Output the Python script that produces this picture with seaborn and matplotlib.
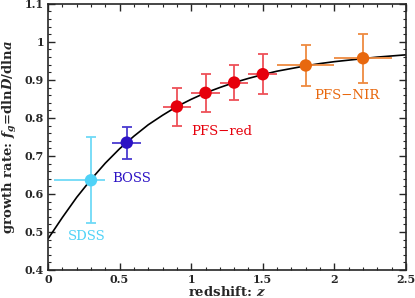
import numpy as np
import pandas as pd
import seaborn as sns
import matplotlib.pyplot as plt
from matplotlib.ticker import MultipleLocator

survey = ["SDSS", "BOSS", "PFS-red", "PFS-red", "PFS-red", "PFS-red", "PFS-NIR", "PFS-NIR"]
z = [0.30, 0.55, 0.90, 1.10, 1.30, 1.50, 1.80, 2.20]
f_g = [0.636, 0.735, 0.830, 0.866, 0.893, 0.915, 0.938, 0.957]
f_err = [0.113, 0.042, 0.050, 0.050, 0.045, 0.053, 0.054, 0.065]
z_lo = [0.26, 0.10, 0.10, 0.10, 0.10, 0.10, 0.20, 0.20]
z_hi = [0.10, 0.10, 0.10, 0.10, 0.10, 0.10, 0.20, 0.20]

# model curve
curve_z = [0.0, 0.1, 0.2, 0.3, 0.4, 0.5, 0.6, 0.7, 0.8, 0.9, 1.0, 1.1, 1.2,
           1.3, 1.4, 1.5, 1.6, 1.7, 1.8, 1.9, 2.0, 2.1, 2.2, 2.3, 2.4, 2.5]
curve_f = [0.482, 0.538, 0.591, 0.638, 0.681, 0.719, 0.752, 0.782, 0.807,
           0.830, 0.849, 0.866, 0.880, 0.893, 0.904, 0.914, 0.923, 0.930,
           0.937, 0.943, 0.948, 0.952, 0.956, 0.960, 0.963, 0.966]

colors = {"SDSS": "#4fd2f7", "BOSS": "#2c12c4", "PFS-red": "#e6000c", "PFS-NIR": "#e8680e"}
err_colors = {"SDSS": "#6fdaf7", "BOSS": "#4a3ad0", "PFS-red": "#ee5058", "PFS-NIR": "#ee8a40"}

df = pd.DataFrame({"survey": survey, "z": z, "f": f_g, "ferr": f_err, "zlo": z_lo, "zhi": z_hi})

sns.set_style("ticks")
plt.rcParams["font.family"] = ["DejaVu Serif"]
plt.rcParams["font.weight"] = "bold"
plt.rcParams["mathtext.fontset"] = "dejavuserif"

fig = plt.figure(figsize=(4.15, 2.98), dpi=100)
ax = fig.add_axes([0.1157, 0.094, 0.8626, 0.893])

sns.lineplot(x=curve_z, y=curve_f, color="black", lw=1.2, ax=ax, zorder=1)

for _, r in df.iterrows():
    c = err_colors[r["survey"]]
    # horizontal bin width, no caps
    ax.errorbar(r["z"], r["f"], xerr=[[r["zlo"]], [r["zhi"]]], fmt="none",
                ecolor=c, elinewidth=1.3, capsize=0, zorder=2)
    # vertical error, with caps
    ax.errorbar(r["z"], r["f"], yerr=r["ferr"], fmt="none",
                ecolor=c, elinewidth=1.3, capsize=3.5, capthick=1.3, zorder=2)

sns.scatterplot(data=df, x="z", y="f", hue="survey", palette=colors, s=80,
                edgecolor="none", legend=False, ax=ax, zorder=3)

lab_kw = dict(fontsize=9.5, fontweight="normal", va="center")
ax.text(0.27, 0.487, "SDSS", color=colors["SDSS"], ha="center", **lab_kw)
ax.text(0.45, 0.64, "BOSS", color=colors["BOSS"], ha="left", **lab_kw)
ax.text(1.0, 0.763, "PFS\u2212red", color=colors["PFS-red"], ha="left", **lab_kw)
ax.text(1.86, 0.858, "PFS\u2212NIR", color=colors["PFS-NIR"], ha="left", **lab_kw)

ax.set_xlim(0, 2.5)
ax.set_ylim(0.4, 1.1)
ax.xaxis.set_minor_locator(MultipleLocator(0.1))
ax.yaxis.set_minor_locator(MultipleLocator(0.02))
ax.set_xticks([0, 0.5, 1, 1.5, 2, 2.5], ["0", "0.5", "1", "1.5", "2", "2.5"],
              fontweight="bold", fontsize=8)
ax.set_yticks([0.4, 0.5, 0.6, 0.7, 0.8, 0.9, 1.0, 1.1],
              ["0.4", "0.5", "0.6", "0.7", "0.8", "0.9", "1", "1.1"],
              fontweight="bold", fontsize=8)
ax.tick_params(which="both", direction="in", top=True, right=True, pad=3)
ax.tick_params(which="major", length=5, width=1)
ax.tick_params(which="minor", length=2.5, width=0.8)
for s in ax.spines.values():
    s.set_linewidth(1.2)

ax.set_xlabel("redshift: $\\boldsymbol{z}$", fontsize=9.5, fontweight="bold", labelpad=0)
ax.set_ylabel("growth rate: $\\boldsymbol{f_g}$=dln$\\boldsymbol{D}$/dln$\\boldsymbol{a}$",
              fontsize=9.5, fontweight="bold", labelpad=4)

fig.savefig("out.png", dpi=100)
